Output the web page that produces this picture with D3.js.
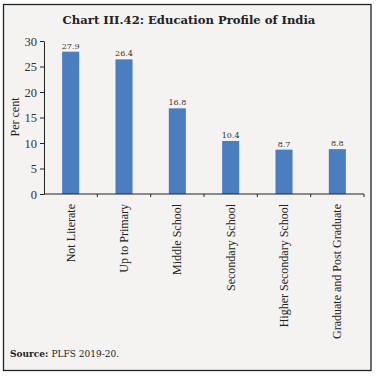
<!DOCTYPE html>
<html><head><meta charset="utf-8">
<script src="https://cdn.jsdelivr.net/npm/d3@7"></script>
<style>body{margin:0;background:#fff;} svg{display:block;}</style>
</head><body>
<svg id="c" width="380" height="377"></svg>
<script>
const categories = ["Not Literate","Up to Primary","Middle School","Secondary School","Higher Secondary School","Graduate and Post Graduate"];
const values = [27.9, 26.4, 16.8, 10.4, 8.7, 8.8];
const yTicks = [0,5,10,15,20,25,30];

const svg = d3.select("#c");
const serif = "'DejaVu Serif', serif";
svg.append("rect").attr("x",3.5).attr("y",4.5).attr("width",367.5).attr("height",366)
  .attr("fill","#f5f2f2").attr("stroke","#222").attr("stroke-width",1.3);

svg.append("text").attr("x",189).attr("y",24).attr("text-anchor","middle")
  .attr("font-family",serif).attr("font-weight","bold").attr("font-size",11.6)
  .attr("fill","#222").text("Chart III.42: Education Profile of India");

const x = d3.scaleBand().domain(categories).range([44,364]).paddingInner(0.68).paddingOuter(0.34);
const y = d3.scaleLinear().domain([0,30]).range([194,41]);

const yAxis = svg.append("g").attr("transform","translate(44,0)")
  .call(d3.axisLeft(y).tickValues(yTicks).tickSize(4).tickSizeOuter(0));
yAxis.select(".domain").attr("stroke","#222");
yAxis.selectAll("line").attr("stroke","#222");
yAxis.selectAll("text").attr("font-family","'Liberation Serif', serif").attr("font-size",12.5).attr("fill","#333");

svg.selectAll("rect.bar").data(values).enter().append("rect").attr("class","bar")
  .attr("x",(d,i)=>x(categories[i])).attr("width",x.bandwidth())
  .attr("y",d=>y(d)).attr("height",d=>y(0)-y(d)).attr("fill","#4a7ebf");

svg.selectAll("text.val").data(values).enter().append("text").attr("class","val")
  .attr("x",(d,i)=>x(categories[i])+x.bandwidth()/2).attr("y",d=>y(d)-3)
  .attr("text-anchor","middle").attr("font-family",serif).attr("font-size",8)
  .attr("fill","#333").text(d=>d.toFixed(1));

const xb = d3.scalePoint().domain(d3.range(7)).range([44,364]);
const xAxis = svg.append("g");
xAxis.append("line").attr("x1",44).attr("x2",364).attr("y1",194).attr("y2",194).attr("stroke","#222");
xAxis.selectAll("line.t").data(d3.range(1,7)).enter().append("line").attr("class","t")
  .attr("x1",d=>xb(d)).attr("x2",d=>xb(d)).attr("y1",194).attr("y2",197).attr("stroke","#222");

svg.selectAll("text.cat").data(categories).enter().append("text").attr("class","cat")
  .attr("transform",d=>`translate(${x(d)+x.bandwidth()/2+4},204) rotate(-90)`)
  .attr("text-anchor","end").attr("font-family","'Liberation Serif', serif").attr("font-size",12)
  .attr("fill","#222").text(d=>d);

svg.append("text").attr("transform","translate(19,117) rotate(-90)").attr("text-anchor","middle")
  .attr("font-family","'Liberation Serif', serif").attr("font-size",12).attr("fill","#222").text("Per cent");

const src = svg.append("text").attr("x",10).attr("y",357).attr("font-family",serif).attr("font-size",9).attr("fill","#222");
src.append("tspan").attr("font-weight","bold").text("Source: ");
src.append("tspan").text("PLFS 2019-20.");
</script>
</body></html>
